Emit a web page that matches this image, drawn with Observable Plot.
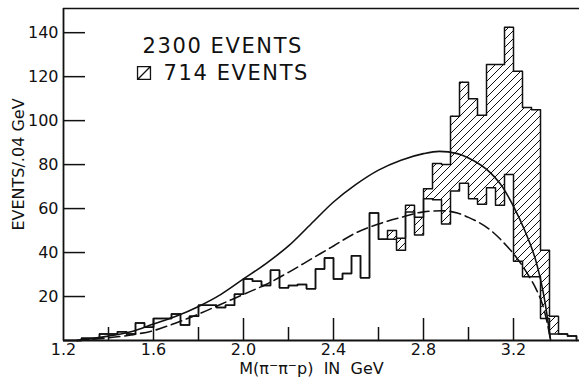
<!DOCTYPE html>
<html>
<head>
<meta charset="utf-8">
<script src="https://cdn.jsdelivr.net/npm/d3@7"></script>
<script src="https://cdn.jsdelivr.net/npm/@observablehq/plot@0.6"></script>
<style>
  html, body { margin: 0; padding: 0; background: #fff; }
  svg { display: block; }
</style>
</head>
<body>
<div id="chart"></div>
<script>
// ---- data ----
const binStart = 1.20;
const binWidth = 0.04;
// all 2300 events, per 0.04 GeV bin starting at 1.20 GeV
const allEvents = [0, 0, 1, 1, 3, 3, 4, 3, 8, 6,
  10, 10, 12, 7, 11, 16, 16, 15, 16, 21,
  28, 27, 25, 32, 24, 25, 25.5, 23.5, 32.5, 37.5,
  28, 30.5, 38.5, 28.5, 58, 46, 50, 46.5, 61.5, 56,
  69, 80.5, 80, 102, 117.5, 110, 102.5, 125.5, 125.5, 142.5,
  122.5, 106, 105, 41, 11, 3, 2];
// events outside the hatched 714-event subset
const unhatched = [0, 0, 1, 1, 3, 3, 4, 3, 8, 6,
  10, 10, 12, 7, 11, 16, 16, 15, 16, 21,
  28, 27, 25, 32, 24, 25, 25.5, 23.5, 32.5, 37.5,
  28, 30.5, 38.5, 28.5, 58, 46, 46, 41, 58.5, 48,
  64.5, 64, 53, 68, 71.5, 64.5, 62, 69.5, 61.5, 75.5,
  36, 29, 29, 10, 3, 3, 2];
// solid curve
const solidMass = [1.26, 1.3, 1.4, 1.5, 1.6, 1.7, 1.8, 1.9, 2.0, 2.1, 2.2, 2.3, 2.4, 2.5, 2.6, 2.7, 2.8, 2.87, 2.95, 3.0, 3.1, 3.15, 3.2, 3.25, 3.3, 3.33, 3.35, 3.365];
const solidEvents = [0, 0.5, 2, 4, 7.5, 11, 15.5, 21, 28, 35, 43, 53, 63, 71, 77.5, 82, 85, 86, 85, 83, 76, 70, 61, 50, 36, 23, 11, 0];
// dashed curve
const dashMass = [1.26, 1.3, 1.4, 1.5, 1.6, 1.7, 1.8, 1.9, 2.0, 2.1, 2.2, 2.3, 2.4, 2.5, 2.6, 2.7, 2.8, 2.88, 2.95, 3.0, 3.1, 3.17, 3.2, 3.27, 3.3, 3.33, 3.35, 3.365];
const dashEvents = [0, 0.3, 1.2, 2.5, 4.5, 8, 12, 16.5, 21, 25.5, 31, 37, 43, 49, 53, 56, 58.5, 59, 58, 56, 50, 43, 39.5, 29, 23.5, 16, 8, 0];
// axes
const yTicks = [20, 40, 60, 80, 100, 120, 140];
const xLabels = [1.2, 1.6, 2.0, 2.4, 2.8, 3.2];
const xMajor = [1.6, 2.0, 2.4, 2.8, 3.2];
const xMinor = [1.4, 1.8, 2.2, 2.6, 3.0];
const xDomain = [1.2, 3.4933];
const yDomain = [0, 151];
const legendLabels = ["2300 EVENTS", "714 EVENTS"];
const yTitle = ["EVENTS/.04 GeV"];
const xTitle = ["M(\u03c0\u207b\u03c0\u207bp)\u00a0\u00a0IN\u00a0\u00a0GeV"];

// ---- derived tables ----
const bins = allEvents.map((v, i) => ({
  x1: binStart + i * binWidth,
  x2: binStart + (i + 1) * binWidth,
  upper: v,
  lower: unhatched[i]
}));
function steps(vals) {
  const pts = [{x: binStart, y: 0}];
  vals.forEach((v, i) => {
    const a = binStart + i * binWidth;
    pts.push({x: a, y: v}, {x: a + binWidth, y: v});
  });
  pts.push({x: binStart + vals.length * binWidth, y: 0});
  return pts;
}
const solid = solidMass.map((m, i) => ({x: m, y: solidEvents[i]}));
const dashed = dashMass.map((m, i) => ({x: m, y: dashEvents[i]}));

const W = 579, H = 379, mL = 63, mR = 0, mT = 8, mB = 39;
const frameW = W - mL - mR, frameH = H - mT - mB;
const ink = "#111";

const boxSymbol = {
  draw(ctx, size) {
    const h = Math.sqrt(size) / 2;
    ctx.moveTo(-h, -h); ctx.lineTo(h, -h); ctx.lineTo(h, h); ctx.lineTo(-h, h); ctx.closePath();
    ctx.moveTo(-h, h); ctx.lineTo(h, -h);
  }
};

const svg = Plot.plot({
  width: W, height: H,
  marginLeft: mL, marginRight: mR, marginTop: mT, marginBottom: mB,
  x: {domain: xDomain},
  y: {domain: yDomain},
  style: {fontFamily: "'DejaVu Sans', sans-serif", color: ink, background: "#fff", overflow: "visible"},
  marks: [
    Plot.rect(bins.filter(d => d.upper > d.lower), {x1: "x1", x2: "x2", y1: "lower", y2: "upper", fill: "url(#hatch)"}),
    Plot.line(steps(unhatched), {x: "x", y: "y", stroke: ink, strokeWidth: 1.5}),
    Plot.line(steps(allEvents), {x: "x", y: "y", stroke: ink, strokeWidth: 1.5}),
    Plot.line(solid, {x: "x", y: "y", curve: "monotone-x", stroke: ink, strokeWidth: 1.6}),
    Plot.line(dashed, {x: "x", y: "y", curve: "monotone-x", stroke: ink, strokeWidth: 1.6, strokeDasharray: "11,5"}),
    // frame lines
    Plot.ruleX([xDomain[0]], {stroke: ink, strokeWidth: 1.8}),
    Plot.ruleY([yDomain[0]], {stroke: ink, strokeWidth: 1.8}),
    Plot.ruleY([yDomain[1]], {stroke: ink, strokeWidth: 1.5}),
    // inward ticks
    Plot.tickY(yTicks, {y: d => d, stroke: ink, strokeWidth: 1.5, insetRight: frameW - 22}),
    Plot.tickX(xMajor, {x: d => d, stroke: ink, strokeWidth: 1.5, insetTop: frameH - 22}),
    Plot.tickX(xMinor, {x: d => d, stroke: ink, strokeWidth: 1.5, insetTop: frameH - 13}),
    // tick labels
    Plot.axisY({ticks: yTicks, tickSize: 0, tickPadding: 5, fontSize: 16, label: null, tickFormat: d => String(d)}),
    Plot.axisX({ticks: xLabels, tickSize: 0, tickPadding: 3, fontSize: 16, label: null, tickFormat: d => d.toFixed(1)}),
    // axis titles
    Plot.text(yTitle, {text: d => d, frameAnchor: "left", textAnchor: "middle", lineAnchor: "middle", dx: -45, dy: -10, rotate: -90, fontSize: 16, fill: ink}),
    Plot.text(xTitle, {text: d => d, frameAnchor: "bottom", textAnchor: "middle", lineAnchor: "middle", dx: -10, dy: 28, fontSize: 16, fill: ink}),
    // legend
    Plot.text([legendLabels[0]], {text: d => d, frameAnchor: "top-left", textAnchor: "start", lineAnchor: "middle", dx: 79, dy: 38, fontSize: 21, fill: ink}),
    Plot.text([legendLabels[1]], {text: d => d, frameAnchor: "top-left", textAnchor: "start", lineAnchor: "middle", dx: 100, dy: 65, fontSize: 21, fill: ink}),
    Plot.dot([legendLabels[1]], {frameAnchor: "top-left", dx: 80.5, dy: 64.5, symbol: boxSymbol, r: 7.3, stroke: ink, strokeWidth: 1.3, fill: "none"})
  ]
});

const ns = "http://www.w3.org/2000/svg";
const defs = document.createElementNS(ns, "defs");
defs.innerHTML = '<pattern id="hatch" patternUnits="userSpaceOnUse" width="8" height="8">' +
  '<path d="M-2,2 L2,-2 M0,8 L8,0 M6,10 L10,6" stroke="#111" stroke-width="1"/></pattern>';
svg.insertBefore(defs, svg.firstChild);
svg.querySelectorAll("text").forEach(t => {
  const s = t.textContent;
  if (/EVENTS$/.test(s) && !/\//.test(s)) t.setAttribute("letter-spacing", "1.6");
  if (s === xTitle[0]) {
    // render the pion charges as raised superscripts
    const parts = s.split("\u207b");
    t.textContent = "";
    parts.forEach((p, i) => {
      const span = document.createElementNS(ns, "tspan");
      span.textContent = p;
      if (i > 0) span.setAttribute("dy", "5");
      t.appendChild(span);
      if (i < parts.length - 1) {
        const sup = document.createElementNS(ns, "tspan");
        sup.textContent = "\u2212";
        sup.setAttribute("dy", "-5");
        sup.setAttribute("font-size", "11");
        t.appendChild(sup);
      }
    });
  }
});
document.getElementById("chart").appendChild(svg);
</script>
</body>
</html>
